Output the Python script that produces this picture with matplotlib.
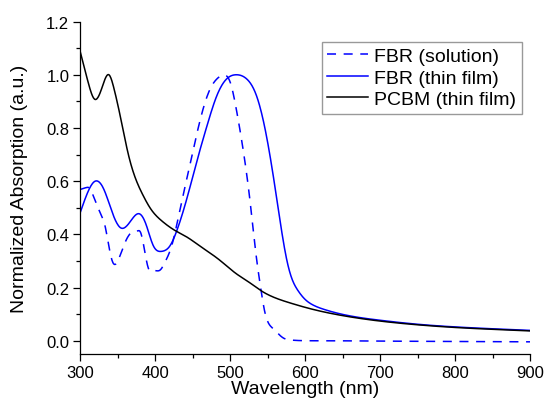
import numpy as np
import matplotlib
matplotlib.use("Agg")
import matplotlib.pyplot as plt

plt.rcParams['font.family'] = ['Liberation Sans', 'DejaVu Sans']

# FBR (solution) - dashed blue
sol_wl = [300, 308, 312, 317, 326, 333, 338, 343, 353, 362, 371, 376, 380, 386, 391, 396, 402, 406, 413, 422,
          433, 446, 459, 473, 482, 491, 500, 508, 517, 526, 535, 540, 546, 557, 571, 580, 590, 605, 630, 680,
          750, 820, 900]
sol_abs = [0.569, 0.576, 0.574, 0.546, 0.484, 0.43, 0.355, 0.296, 0.321, 0.384, 0.411, 0.413, 0.409, 0.334, 0.27,
           0.263, 0.263, 0.265, 0.296, 0.359, 0.496, 0.659, 0.821, 0.946, 0.984, 0.999, 0.971, 0.871, 0.721,
           0.534, 0.309, 0.209, 0.109, 0.046, 0.010, 0.003, 0.001, 0.0, 0.0, -0.001, -0.002, -0.003, -0.004]

# FBR (thin film) - solid blue
film_wl = [300, 308, 319, 331, 344, 354, 366, 379, 388, 397, 408, 420, 428, 442, 455, 469, 482, 495, 508, 522,
           535, 549, 562, 575, 582, 590, 600, 610, 625, 650, 700, 750, 800, 850, 900]
film_abs = [0.484, 0.546, 0.599, 0.571, 0.471, 0.424, 0.446, 0.477, 0.434, 0.359, 0.336, 0.359, 0.409, 0.534,
            0.671, 0.809, 0.921, 0.984, 1.0, 0.984, 0.921, 0.759, 0.534, 0.309, 0.235, 0.19, 0.155, 0.135, 0.118,
            0.099, 0.077, 0.062, 0.052, 0.045, 0.039]

# PCBM (thin film) - solid black
pcbm_wl = [300, 310, 319, 328, 338, 345, 352, 357, 363, 372, 383, 394, 408, 426, 442, 460, 485, 508, 524, 540,
           562, 580, 606, 647, 700, 750, 800, 850, 900]
pcbm_abs = [1.084, 0.975, 0.908, 0.945, 1.0, 0.946, 0.86, 0.792, 0.712, 0.622, 0.55, 0.495, 0.452, 0.415,
            0.39, 0.355, 0.305, 0.252, 0.222, 0.19, 0.159, 0.142, 0.121, 0.096, 0.074, 0.060, 0.050, 0.043, 0.037]


def smooth(x, y, n=900):
    """Natural cubic spline through the read points."""
    x = np.asarray(x, float); y = np.asarray(y, float)
    N = len(x); h = np.diff(x)
    A = np.zeros((N, N)); r = np.zeros(N)
    A[0, 0] = A[-1, -1] = 1.0
    for i in range(1, N - 1):
        A[i, i - 1] = h[i - 1]; A[i, i] = 2 * (h[i - 1] + h[i]); A[i, i + 1] = h[i]
        r[i] = 6 * ((y[i + 1] - y[i]) / h[i] - (y[i] - y[i - 1]) / h[i - 1])
    M = np.linalg.solve(A, r)
    xs = np.linspace(x[0], x[-1], n)
    idx = np.clip(np.searchsorted(x, xs) - 1, 0, N - 2)
    x0 = x[idx]; x1 = x[idx + 1]; hh = h[idx]
    ys = (M[idx] * (x1 - xs) ** 3 / (6 * hh) + M[idx + 1] * (xs - x0) ** 3 / (6 * hh)
          + (y[idx] / hh - M[idx] * hh / 6) * (x1 - xs) + (y[idx + 1] / hh - M[idx + 1] * hh / 6) * (xs - x0))
    return xs, ys


fig = plt.figure(figsize=(5.47, 4.10), dpi=100)
ax = fig.add_axes([0.147, 0.134, 0.822, 0.811])

x, y = smooth(sol_wl, sol_abs)
ax.plot(x, y, color='#0000ff', lw=1.1, linestyle=(0, (5.9, 5.0)), label='FBR (solution)')
x, y = smooth(film_wl, film_abs)
ax.plot(x, y, color='#0000ff', lw=1.1, label='FBR (thin film)')
x, y = smooth(pcbm_wl, pcbm_abs)
ax.plot(x, y, color='black', lw=1.1, label='PCBM (thin film)')

ax.set_xlim(300, 900)
ax.set_ylim(-0.05, 1.2)
ax.set_xticks(np.arange(300, 901, 100))
ax.set_xticks(np.arange(350, 900, 100), minor=True)
ax.set_yticks(np.arange(0, 1.21, 0.2))
ax.set_yticks(np.arange(0.1, 1.2, 0.2), minor=True)
ax.yaxis.set_major_formatter(matplotlib.ticker.FormatStrFormatter('%.1f'))

for s in ['top', 'right']:
    ax.spines[s].set_visible(False)
for s in ['left', 'bottom']:
    ax.spines[s].set_linewidth(0.9)
ax.tick_params(which='major', direction='out', length=5, width=0.9, labelsize=12, pad=3, colors='black')
ax.tick_params(which='minor', direction='out', length=3, width=0.9)

ax.set_xlabel('Wavelength (nm)', fontsize=14)
ax.set_ylabel('Normalized Absorption (a.u.)', fontsize=14)
ax.xaxis.set_label_coords(0.5, -0.078)
ax.yaxis.set_label_coords(-0.117, 0.5)

leg = ax.legend(loc='upper right', bbox_to_anchor=(0.982, 0.939), fontsize=14, frameon=True, fancybox=False,
                edgecolor='#808080', handlelength=2.1, handletextpad=0.3, borderpad=0.3, labelspacing=0.2,
                borderaxespad=0)
leg.get_frame().set_linewidth(1.0)

fig.savefig('out.png', dpi=100)
